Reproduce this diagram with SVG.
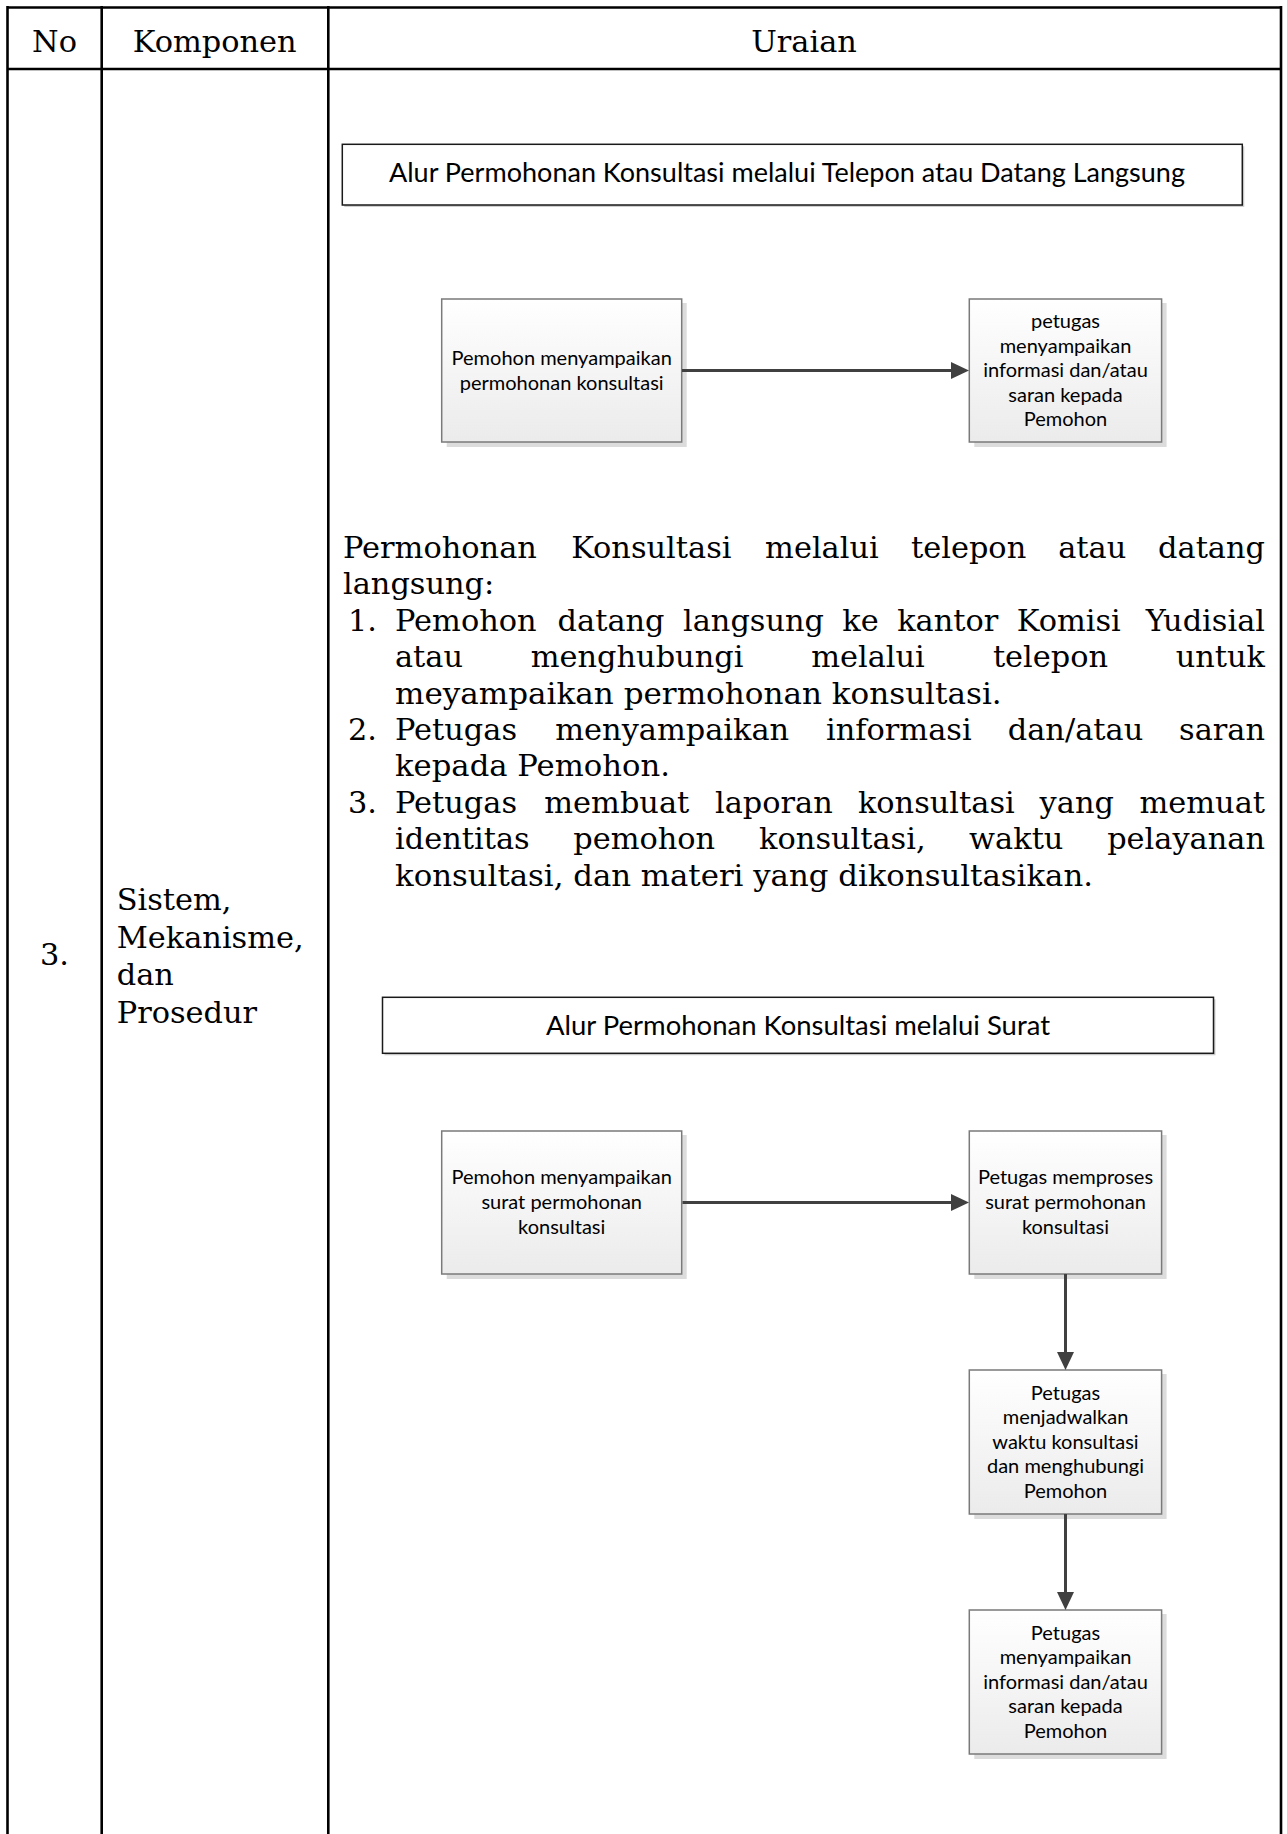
<svg xmlns="http://www.w3.org/2000/svg" width="1287" height="1834" viewBox="0 0 1287 1834">
<defs>
<linearGradient id="nodeFill" x1="0" y1="0" x2="0" y2="1">
<stop offset="0" stop-color="#ffffff"/>
<stop offset="1" stop-color="#ebebeb"/>
</linearGradient>
<marker id="arrow" markerUnits="userSpaceOnUse" markerWidth="18" markerHeight="18" refX="8" refY="9" orient="auto">
<path d="M0,0.5 L18,9 L0,17.5 Z" fill="#404040"/>
</marker>
</defs>
<style>
.grid{stroke:#000;stroke-width:2.6;fill:none}
.bk{font-family:"DejaVu Serif","Liberation Serif",serif;font-size:30.4px;fill:#000}
.ttl{font-family:Lato,"Open Sans","Liberation Sans",sans-serif;font-size:27.5px;fill:#000;text-anchor:middle}
.nt{font-family:Lato,"Open Sans","Liberation Sans",sans-serif;font-size:20px;fill:#000;text-anchor:middle}
.tbox{fill:#fff;stroke:#1a1a1a;stroke-width:1.5}
.tshadow{fill:#cfcfcf}
.nbox{fill:url(#nodeFill);stroke:#7a7a7a;stroke-width:1.5}
.nshadow{fill:#dcdcdc}
.conn{stroke:#404040;stroke-width:3;fill:none;marker-end:url(#arrow)}
.e{text-anchor:end}
.m{text-anchor:middle}
</style>
<rect width="1287" height="1834" fill="#fff"/>
<g id="table">
<line class="grid" x1="7.5" y1="7.5" x2="1281" y2="7.5"/>
<line class="grid" x1="7.5" y1="69" x2="1281" y2="69"/>
<line class="grid" x1="7.5" y1="6" x2="7.5" y2="1834"/>
<line class="grid" x1="101.7" y1="6" x2="101.7" y2="1834"/>
<line class="grid" x1="328.3" y1="6" x2="328.3" y2="1834"/>
<line class="grid" x1="1281" y1="6" x2="1281" y2="1834"/>
</g>
<g id="table-text">
<text class="bk m" x="54.5" y="52">No</text>
<text class="bk m" x="214.7" y="52">Komponen</text>
<text class="bk m" x="804" y="52">Uraian</text>
<text class="bk" x="40" y="965">3.</text>
<text class="bk" x="116.7" y="910">Sistem,</text>
<text class="bk" x="116.7" y="947.5">Mekanisme,</text>
<text class="bk" x="116.7" y="985">dan</text>
<text class="bk" x="116.7" y="1022.5">Prosedur</text>
</g>
<g id="body-text">
<text class="bk" y="558"><tspan x="343">Permohonan</tspan><tspan x="571.2">Konsultasi</tspan><tspan x="765.1">melalui</tspan><tspan x="911">telepon</tspan><tspan x="1058.2">atau</tspan><tspan x="1265" class="e">datang</tspan></text>
<text class="bk" x="343" y="594.4">langsung:</text>
<text class="bk" y="630.8"><tspan x="348">1.</tspan><tspan x="395">Pemohon</tspan><tspan x="557.6">datang</tspan><tspan x="683">langsung</tspan><tspan x="842.3">ke</tspan><tspan x="897.2">kantor</tspan><tspan x="1016.8">Komisi</tspan><tspan x="1265" class="e">Yudisial</tspan></text>
<text class="bk" y="667.2"><tspan x="395">atau</tspan><tspan x="530.7">menghubungi</tspan><tspan x="811.2">melalui</tspan><tspan x="992.9">telepon</tspan><tspan x="1265" class="e">untuk</tspan></text>
<text class="bk" x="395" y="703.6" textLength="606.7" lengthAdjust="spacingAndGlyphs">meyampaikan permohonan konsultasi.</text>
<text class="bk" y="740"><tspan x="348">2.</tspan><tspan x="395">Petugas</tspan><tspan x="555.3">menyampaikan</tspan><tspan x="826">informasi</tspan><tspan x="1007.8">dan/atau</tspan><tspan x="1265" class="e">saran</tspan></text>
<text class="bk" x="395" y="776.4" textLength="275" lengthAdjust="spacingAndGlyphs">kepada Pemohon.</text>
<text class="bk" y="812.8"><tspan x="348">3.</tspan><tspan x="395">Petugas</tspan><tspan x="544.3">membuat</tspan><tspan x="715">laporan</tspan><tspan x="857.9">konsultasi</tspan><tspan x="1039.6">yang</tspan><tspan x="1265" class="e">memuat</tspan></text>
<text class="bk" y="849.2"><tspan x="395">identitas</tspan><tspan x="573.2">pemohon</tspan><tspan x="759.1">konsultasi,</tspan><tspan x="969.1">waktu</tspan><tspan x="1265" class="e">pelayanan</tspan></text>
<text class="bk" x="395" y="885.6" textLength="698" lengthAdjust="spacingAndGlyphs">konsultasi, dan materi yang dikonsultasikan.</text>
</g>
<g id="title1">
<rect class="tshadow" x="344.3" y="146.3" width="900" height="60.7"/>
<rect class="tbox" x="342.3" y="144.3" width="900" height="60.7"/>
<text class="ttl" x="787" y="182.3" textLength="796" lengthAdjust="spacingAndGlyphs">Alur Permohonan Konsultasi melalui Telepon atau Datang Langsung</text>
</g>
<g id="node-a1">
<rect class="nshadow" x="446.7" y="303" width="240" height="144"/>
<rect class="nbox" x="441.7" y="299" width="240" height="143"/>
<text class="nt" x="561.7" y="365">Pemohon menyampaikan</text>
<text class="nt" x="561.7" y="390">permohonan konsultasi</text>
</g>
<g id="node-a2">
<rect class="nshadow" x="974.3" y="303" width="192.3" height="144"/>
<rect class="nbox" x="969.3" y="299" width="192.3" height="143"/>
<text class="nt" x="1065.5" y="328">petugas</text>
<text class="nt" x="1065.5" y="352.5">menyampaikan</text>
<text class="nt" x="1065.5" y="377">informasi dan/atau</text>
<text class="nt" x="1065.5" y="401.5">saran kepada</text>
<text class="nt" x="1065.5" y="426">Pemohon</text>
</g>
<g id="title2">
<rect class="tshadow" x="384.5" y="999.3" width="831" height="56"/>
<rect class="tbox" x="382.5" y="997.3" width="831" height="56"/>
<text class="ttl" x="798" y="1035" textLength="504" lengthAdjust="spacingAndGlyphs">Alur Permohonan Konsultasi melalui Surat</text>
</g>
<g id="node-b1">
<rect class="nshadow" x="446.7" y="1135" width="240" height="144"/>
<rect class="nbox" x="441.7" y="1131" width="240" height="143"/>
<text class="nt" x="561.7" y="1184">Pemohon menyampaikan</text>
<text class="nt" x="561.7" y="1209">surat permohonan</text>
<text class="nt" x="561.7" y="1234">konsultasi</text>
</g>
<g id="node-b2">
<rect class="nshadow" x="974.3" y="1135" width="192.3" height="144"/>
<rect class="nbox" x="969.3" y="1131" width="192.3" height="143"/>
<text class="nt" x="1065.5" y="1184">Petugas memproses</text>
<text class="nt" x="1065.5" y="1209">surat permohonan</text>
<text class="nt" x="1065.5" y="1234">konsultasi</text>
</g>
<g id="node-b3">
<rect class="nshadow" x="974.3" y="1374" width="192.3" height="145"/>
<rect class="nbox" x="969.3" y="1370" width="192.3" height="144"/>
<text class="nt" x="1065.5" y="1399.5">Petugas</text>
<text class="nt" x="1065.5" y="1424">menjadwalkan</text>
<text class="nt" x="1065.5" y="1448.5">waktu konsultasi</text>
<text class="nt" x="1065.5" y="1473">dan menghubungi</text>
<text class="nt" x="1065.5" y="1497.5">Pemohon</text>
</g>
<g id="node-b4">
<rect class="nshadow" x="974.3" y="1614" width="192.3" height="145"/>
<rect class="nbox" x="969.3" y="1610" width="192.3" height="144"/>
<text class="nt" x="1065.5" y="1639.5">Petugas</text>
<text class="nt" x="1065.5" y="1664">menyampaikan</text>
<text class="nt" x="1065.5" y="1688.5">informasi dan/atau</text>
<text class="nt" x="1065.5" y="1713">saran kepada</text>
<text class="nt" x="1065.5" y="1737.5">Pemohon</text>
</g>
<g id="connectors">
<path class="conn" d="M682,370.5 L959,370.5"/>
<path class="conn" d="M682.5,1202.5 L959,1202.5"/>
<path class="conn" d="M1065.5,1274 L1065.5,1360"/>
<path class="conn" d="M1065.5,1514 L1065.5,1600"/>
</g>
</svg>
